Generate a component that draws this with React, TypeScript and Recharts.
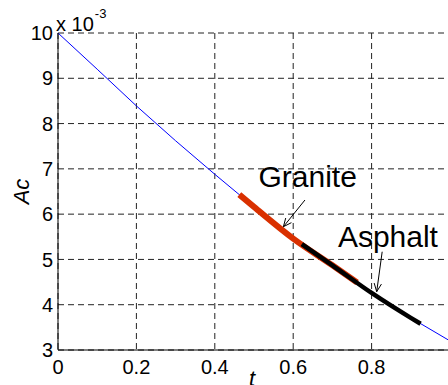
import React from 'react';
import { LineChart, Line, XAxis, YAxis, CartesianGrid, ReferenceDot, ReferenceLine } from 'recharts';

// Main curve Ac(t)
const curveT = [0, 0.1, 0.2, 0.3, 0.4, 0.5, 0.6, 0.7, 0.8, 0.9, 1.0];
const curveAc = [10.0, 9.2, 8.39, 7.62, 6.88, 6.16, 5.46, 4.87, 4.26, 3.71, 3.2].map((v) => v * 1e-3);

// Granite segment
const graniteT = [0.4625, 0.5, 0.6, 0.7, 0.763];
const graniteAc = [6.43, 6.16, 5.46, 4.87, 4.49].map((v) => v * 1e-3);

// Asphalt segment
const asphaltT = [0.622, 0.7, 0.8, 0.9, 0.925];
const asphaltAc = [5.34, 4.87, 4.26, 3.71, 3.58].map((v) => v * 1e-3);

const xTicks = [0, 0.2, 0.4, 0.6, 0.8];
const yTicks = [3, 4, 5, 6, 7, 8, 9, 10].map((v) => v * 1e-3);

const annotationNames = ['Granite', 'Asphalt'];
const annotationTextT = [0.5115, 0.714];
const annotationTextAc = [6.606e-3, 5.281e-3];
const arrowFromT = [0.63, 0.827];
const arrowFromAc = [6.312e-3, 5.17e-3];
const arrowToT = [0.575, 0.813];
const arrowToAc = [5.722e-3, 4.287e-3];

const FONT = '"Liberation Sans", Arial, Helvetica, sans-serif';

const zip = (ts: number[], vs: number[]) => ts.map((t, i) => ({ t, ac: vs[i] }));
const curveData = zip(curveT, curveAc);
const graniteData = zip(graniteT, graniteAc);
const asphaltData = zip(asphaltT, asphaltAc);

const ArrowShape = (props: any) => {
  const { x1, y1, x2, y2 } = props;
  if ([x1, y1, x2, y2].some((v) => typeof v !== 'number' || isNaN(v))) return null;
  const ang = Math.atan2(y2 - y1, x2 - x1);
  const L = 9;
  const spread = 0.42;
  const ax = x2 - L * Math.cos(ang - spread);
  const ay = y2 - L * Math.sin(ang - spread);
  const bx = x2 - L * Math.cos(ang + spread);
  const by = y2 - L * Math.sin(ang + spread);
  return (
    <g>
      <line x1={x1} y1={y1} x2={x2} y2={y2} stroke="#000" strokeWidth={1} />
      <polyline points={`${ax},${ay} ${x2},${y2} ${bx},${by}`} fill="none" stroke="#000" strokeWidth={1} />
    </g>
  );
};

const makeTextShape = (text: string) => (props: any) => {
  const { cx, cy } = props;
  return (
    <text x={cx} y={cy} fontSize={30} fontFamily={FONT} fill="#000">
      {text}
    </text>
  );
};

const ExponentShape = (props: any) => {
  const { cx, cy } = props;
  return (
    <text x={cx - 2} y={cy - 2.5} fontSize={20} fontFamily={FONT} fill="#000">
      x 10
      <tspan dx={1} dy={-13} fontSize={13}>
        -3
      </tspan>
    </text>
  );
};

const XLabel = (props: any) => {
  const vb = props.viewBox || { x: 58, y: 350, width: 392, height: 35 };
  return (
    <text
      x={vb.x + vb.width / 2 - 2}
      y={vb.y + vb.height + 1}
      textAnchor="middle"
      fontSize={22}
      fontStyle="italic"
      fontFamily={FONT}
      fill="#000"
    >
      t
    </text>
  );
};

const YLabel = (props: any) => {
  const vb = props.viewBox || { x: 0, y: 33, width: 58, height: 317 };
  const cx = vb.x + 21.5;
  const cy = vb.y + vb.height / 2;
  return (
    <text
      x={cx}
      y={cy}
      transform={`rotate(-90 ${cx} ${cy})`}
      textAnchor="middle"
      dominantBaseline="central"
      fontSize={22}
      fontStyle="italic"
      fontFamily={FONT}
      fill="#000"
    >
      Ac
    </text>
  );
};

export default function App() {
  return (
    <div
      style={{
        position: 'fixed',
        left: 0,
        top: 0,
        width: 448,
        height: 385,
        overflow: 'hidden',
        background: '#fff',
        fontFamily: FONT,
      }}
    >
      <LineChart width={460} height={385} margin={{ top: 33, right: 10, bottom: 0, left: 0 }}>
        <CartesianGrid stroke="#222" strokeDasharray="6 4" strokeWidth={1} />
        <XAxis
          xAxisId={0}
          type="number"
          dataKey="t"
          domain={[0, 1]}
          ticks={xTicks}
          height={35}
          tickLine={false}
          tickSize={0}
          tickMargin={10}
          axisLine={{ stroke: '#000', strokeWidth: 1 }}
          tick={{ fill: '#000', fontSize: 20, fontFamily: FONT }}
          tickFormatter={(v: number) => String(v)}
          interval={0}
          allowDuplicatedCategory={false}
          label={XLabel}
        />
        <XAxis
          xAxisId="top"
          orientation="top"
          type="number"
          dataKey="t"
          domain={[0, 1]}
          ticks={xTicks}
          height={0}
          tick={false}
          tickLine={false}
          axisLine={{ stroke: '#000', strokeWidth: 1 }}
        />
        <YAxis
          yAxisId={0}
          type="number"
          domain={[0.003, 0.01]}
          ticks={yTicks}
          width={58}
          tickLine={false}
          tickSize={0}
          tickMargin={5}
          axisLine={{ stroke: '#000', strokeWidth: 1 }}
          tick={{ fill: '#000', fontSize: 20, fontFamily: FONT }}
          tickFormatter={(v: number) => String(Math.round(v * 1000))}
          interval={0}
          label={YLabel}
        />
        <YAxis
          yAxisId="right"
          orientation="right"
          type="number"
          domain={[0.003, 0.01]}
          ticks={yTicks}
          width={0}
          tick={false}
          tickLine={false}
          axisLine={{ stroke: '#000', strokeWidth: 1 }}
        />
        <Line
          data={curveData}
          dataKey="ac"
          type="linear"
          stroke="#0000ff"
          strokeWidth={1}
          dot={false}
          activeDot={false}
          isAnimationActive={false}
        />
        <Line
          data={graniteData}
          dataKey="ac"
          type="monotone"
          stroke="#d93000"
          strokeWidth={6}
          dot={false}
          activeDot={false}
          isAnimationActive={false}
        />
        <Line
          data={asphaltData}
          dataKey="ac"
          type="monotone"
          stroke="#000"
          strokeWidth={4.5}
          dot={false}
          activeDot={false}
          isAnimationActive={false}
        />
        {annotationNames.map((name, i) => (
          <ReferenceLine
            key={`arrow-${name}`}
            segment={[
              { x: arrowFromT[i], y: arrowFromAc[i] },
              { x: arrowToT[i], y: arrowToAc[i] },
            ]}
            ifOverflow="visible"
            shape={ArrowShape}
          />
        ))}
        {annotationNames.map((name, i) => (
          <ReferenceDot
            key={`text-${name}`}
            x={annotationTextT[i]}
            y={annotationTextAc[i]}
            r={1}
            ifOverflow="visible"
            shape={makeTextShape(name)}
          />
        ))}
        <ReferenceDot x={0} y={0.01} r={1} ifOverflow="visible" shape={ExponentShape} />
      </LineChart>
    </div>
  );
}
